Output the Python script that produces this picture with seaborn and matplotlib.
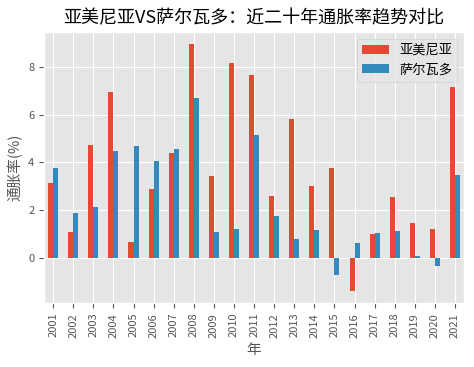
import pandas as pd
import matplotlib
matplotlib.use('Agg')
import matplotlib.pyplot as plt
import seaborn as sns

# Inflation rates (%)
years = [str(y) for y in range(2001, 2022)]
armenia = [3.15, 1.06, 4.72, 6.97, 0.64, 2.89, 4.40, 8.97, 3.42, 8.19, 7.67,
           2.57, 5.81, 2.99, 3.75, -1.40, 0.97, 2.53, 1.44, 1.22, 7.19]
el_salvador = [3.76, 1.87, 2.12, 4.46, 4.69, 4.04, 4.58, 6.72, 1.06, 1.19, 5.14,
               1.74, 0.78, 1.15, -0.72, 0.61, 1.03, 1.11, 0.07, -0.36, 3.47]
series_names = ['亚美尼亚', '萨尔瓦多']

df = pd.DataFrame({'年': years, series_names[0]: armenia, series_names[1]: el_salvador})
long_df = df.melt(id_vars='年', var_name='国家', value_name='通胀率')

plt.style.use('ggplot')
plt.rcParams['font.family'] = ['Noto Sans CJK SC', 'DejaVu Sans']
plt.rcParams['axes.unicode_minus'] = False

fig = plt.figure(figsize=(4.74, 3.67), dpi=100)
ax = fig.add_axes([0.093, 0.174, 0.886, 0.739])

sns.barplot(data=long_df, x='年', y='通胀率', hue='国家', hue_order=series_names,
            palette=['#E24A33', '#348ABD'], saturation=1, width=0.5, ax=ax)

ax.xaxis.grid(True)
ax.set_axisbelow(True)
ax.set_xlim(-0.45, len(years) - 0.55)
ax.set_ylim(-1.92, 9.49)
ax.set_yticks([0, 2, 4, 6, 8])
ax.tick_params(axis='x', labelrotation=90, labelsize=8)
ax.tick_params(axis='y', labelsize=8)

ax.set_title('亚美尼亚VS萨尔瓦多：近二十年通胀率趋势对比', fontsize=13, color='black')
ax.set_xlabel('年', fontsize=10.5)
ax.set_ylabel('通胀率(%)', fontsize=10.5)
ax.legend(title=None, fontsize=9.5, loc='upper right')

fig.savefig('out.png', dpi=100)
